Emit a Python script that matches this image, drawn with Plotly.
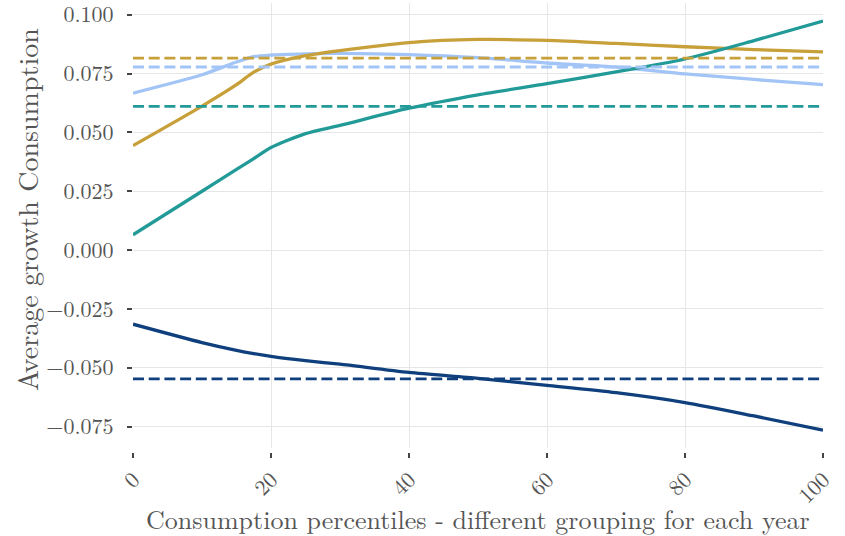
import plotly.graph_objects as go

# Consumption percentile grid (x) shared by all four years
percentiles = [0, 10, 15, 17.5, 20, 25, 30, 40, 50, 60, 70, 80, 90, 100]

# Average consumption growth by percentile, one list per year
growth_light_blue = [0.0667, 0.0745, 0.0799, 0.0822, 0.0829, 0.0834, 0.0836, 0.0831, 0.0818, 0.0795, 0.0778, 0.0749, 0.0725, 0.0703]
growth_gold = [0.0444, 0.0612, 0.0703, 0.0756, 0.0790, 0.0826, 0.0848, 0.0882, 0.0895, 0.0891, 0.0878, 0.0864, 0.0852, 0.0842]
growth_teal = [0.0065, 0.0250, 0.0343, 0.0389, 0.0436, 0.0495, 0.0530, 0.0603, 0.0660, 0.0707, 0.0757, 0.0812, 0.0890, 0.0973]
growth_navy = [-0.0315, -0.0393, -0.0426, -0.0440, -0.0452, -0.0470, -0.0485, -0.0520, -0.0545, -0.0575, -0.0606, -0.0648, -0.0705, -0.0765]

# Overall average growth per year (dashed reference levels)
mean_light_blue = 0.0778
mean_gold = 0.0816
mean_teal = 0.0611
mean_navy = -0.0547

x_ticks = [0, 20, 40, 60, 80, 100]
y_ticks = [-0.075, -0.050, -0.025, 0.000, 0.025, 0.050, 0.075, 0.100]

series = [
    (growth_light_blue, mean_light_blue, "#a2c4f6"),
    (growth_gold, mean_gold, "#c8a03a"),
    (growth_teal, mean_teal, "#219a98"),
    (growth_navy, mean_navy, "#0f3f7c"),
]

FONT = "Latin Modern Roman, CMU Serif, Liberation Serif, serif"
TEXT = "#555555"

fig = go.Figure()
for values, mean, color in series:
    fig.add_trace(go.Scatter(
        x=percentiles, y=values, mode="lines",
        line=dict(color=color, width=3.3, shape="spline", smoothing=0.7),
        showlegend=False,
    ))
for values, mean, color in series:
    fig.add_trace(go.Scatter(
        x=[percentiles[0], percentiles[-1]], y=[mean, mean], mode="lines",
        line=dict(color=color, width=2.8, dash="11px,4.7px"),
        showlegend=False,
    ))

fig.update_layout(
    width=845, height=536,
    margin=dict(l=133, r=22, t=3, b=84, autoexpand=False),
    paper_bgcolor="white", plot_bgcolor="white",
    font=dict(family=FONT, size=22, color=TEXT),
    xaxis=dict(
        range=[0, 100], tickvals=x_ticks, tickangle=-45,
        showgrid=True, gridcolor="#e6e6e6", gridwidth=1.3,
        zeroline=False, showline=False, automargin=False,
        ticks="outside", ticklen=5, tickwidth=1.5, tickcolor="#444444",
        anchor="free", position=0, ticklabeloverflow="allow",
    ),
    yaxis=dict(
        range=[-0.0839, 0.1050], tickvals=y_ticks, tickformat=".3f",
        domain=[0.01, 1],
        showgrid=True, gridcolor="#e6e6e6", gridwidth=1.3,
        zeroline=False, showline=False, automargin=False,
        ticks="outside", ticklen=5, tickwidth=1.5, tickcolor="#444444",
        ticklabelstandoff=9, ticklabeloverflow="allow",
    ),
    annotations=[
        dict(text="Consumption percentiles - different grouping for each year",
             xref="paper", yref="paper", x=0.5, y=-0.147, xanchor="center", yanchor="middle",
             showarrow=False, font=dict(family=FONT, size=26, color=TEXT)),
        dict(text="Average growth Consumption",
             xref="paper", yref="paper", x=-0.155, y=0.539, xanchor="center", yanchor="middle",
             textangle=-90, showarrow=False, font=dict(family=FONT, size=28, color=TEXT)),
    ],
)

fig.write_html("out.html")
